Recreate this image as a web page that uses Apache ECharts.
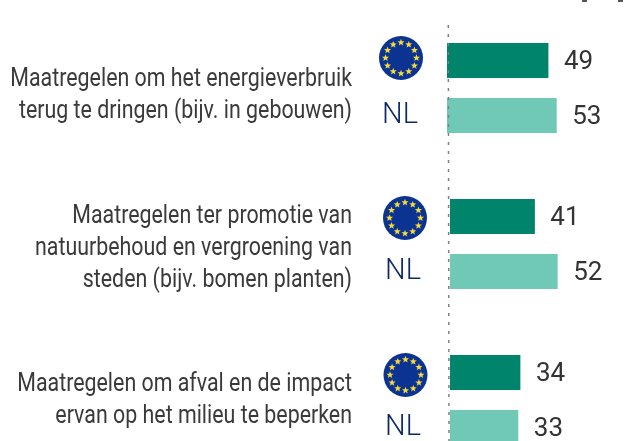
<!DOCTYPE html>
<html><head><meta charset="utf-8">
<style>html,body{margin:0;padding:0;background:#fff}#c{width:628px;height:441px}</style>
<script src="https://cdn.jsdelivr.net/npm/echarts@6/dist/echarts.min.js"></script>
</head><body><div id="c"></div>
<script>
const rowNames = ['EU', 'NL'];
const group1 = [49, 53];
const group2 = [41, 52];
const group3 = [34, 33];
const groupLabels = [
  'Maatregelen om het energieverbruik\nterug te dringen (bijv. in gebouwen)',
  'Maatregelen ter promotie van\nnatuurbehoud en vergroening van\nsteden (bijv. bomen planten)',
  'Maatregelen om afval en de impact\nervan op het milieu te beperken'
];
const groups = [group1, group2, group3];
const colors = ['#00846b', '#6fc9b6'];
const lefts = [447, 450, 450];
const tops = [33, 189, 345];
const labelY = [95.5, 248.5, 400.5];
const flags = [[401, 58], [405, 218], [405.5, 375]];
const font = 'Roboto, sans-serif';

const chart = echarts.init(document.getElementById('c'), null, {renderer: 'canvas'});
const graphic = [];
groupLabels.forEach((t, i) => graphic.push({
  type: 'text', z: 10, x: 352, y: labelY[i], scaleX: 0.855, style: {
    text: t, x: 0, y: 0, align: 'right', verticalAlign: 'middle',
    font: '400 25px ' + font, lineHeight: 32, fill: '#3a3a3a'
  }
}));
flags.forEach(([cx, cy]) => {
  graphic.push({type: 'circle', z: 10, shape: {cx, cy, r: 22}, style: {fill: '#0b3391'}});
  for (let h = 0; h < 12; h++) {
    const a = h * Math.PI / 6;
    graphic.push({
      type: 'polygon', z: 11,
      shape: {points: Array.from({length: 10}, (_, k) => {
        const b = -Math.PI / 2 + k * Math.PI / 5, r = k % 2 ? 1.6 : 3.7;
        return [cx + 15.5 * Math.sin(a) + r * Math.cos(b), cy - 15.5 * Math.cos(a) + r * Math.sin(b)];
      })},
      style: {fill: '#f7d93a'}
    });
  }
});
graphic.push({
  type: 'line', z: 20,
  shape: {x1: 448.3, y1: 25, x2: 449, y2: 441},
  style: {stroke: '#808080', lineWidth: 1.5, lineDash: [3, 6]}
});
graphic.push({type: 'rect', z: 5, shape: {x: 582, y: 0, width: 5, height: 2}, style: {fill: '#555'}});
graphic.push({type: 'rect', z: 5, shape: {x: 618, y: 0, width: 5, height: 2}, style: {fill: '#555'}});

chart.setOption({
  animation: false,
  backgroundColor: '#fff',
  graphic,
  grid: groups.map((g, i) => ({left: lefts[i], top: tops[i], width: 207, height: 110, containLabel: false, outerBoundsMode: 'none'})),
  xAxis: groups.map((g, i) => ({gridIndex: i, type: 'value', min: 0, max: 100, show: false})),
  yAxis: groups.map((g, i) => ({
    gridIndex: i, type: 'category', inverse: true, data: rowNames,
    axisLine: {show: false}, axisTick: {show: false}, splitLine: {show: false},
    axisLabel: {
      margin: 29, fontFamily: font, fontWeight: 300, fontSize: 29, color: '#0e2a66',
      padding: [2, 0, 0, 0],
      formatter: v => v === 'NL' ? v : ''
    }
  })),
  series: groups.map((g, i) => ({
    type: 'bar', xAxisIndex: i, yAxisIndex: i, barWidth: 35,
    data: g.map((v, k) => ({value: v, itemStyle: {color: colors[k]}})),
    label: {
      show: true, position: 'right', distance: 15.5, offset: [0, 2],
      fontFamily: font, fontWeight: 400, fontSize: 26, color: '#333333'
    }
  }))
});
</script></body></html>
